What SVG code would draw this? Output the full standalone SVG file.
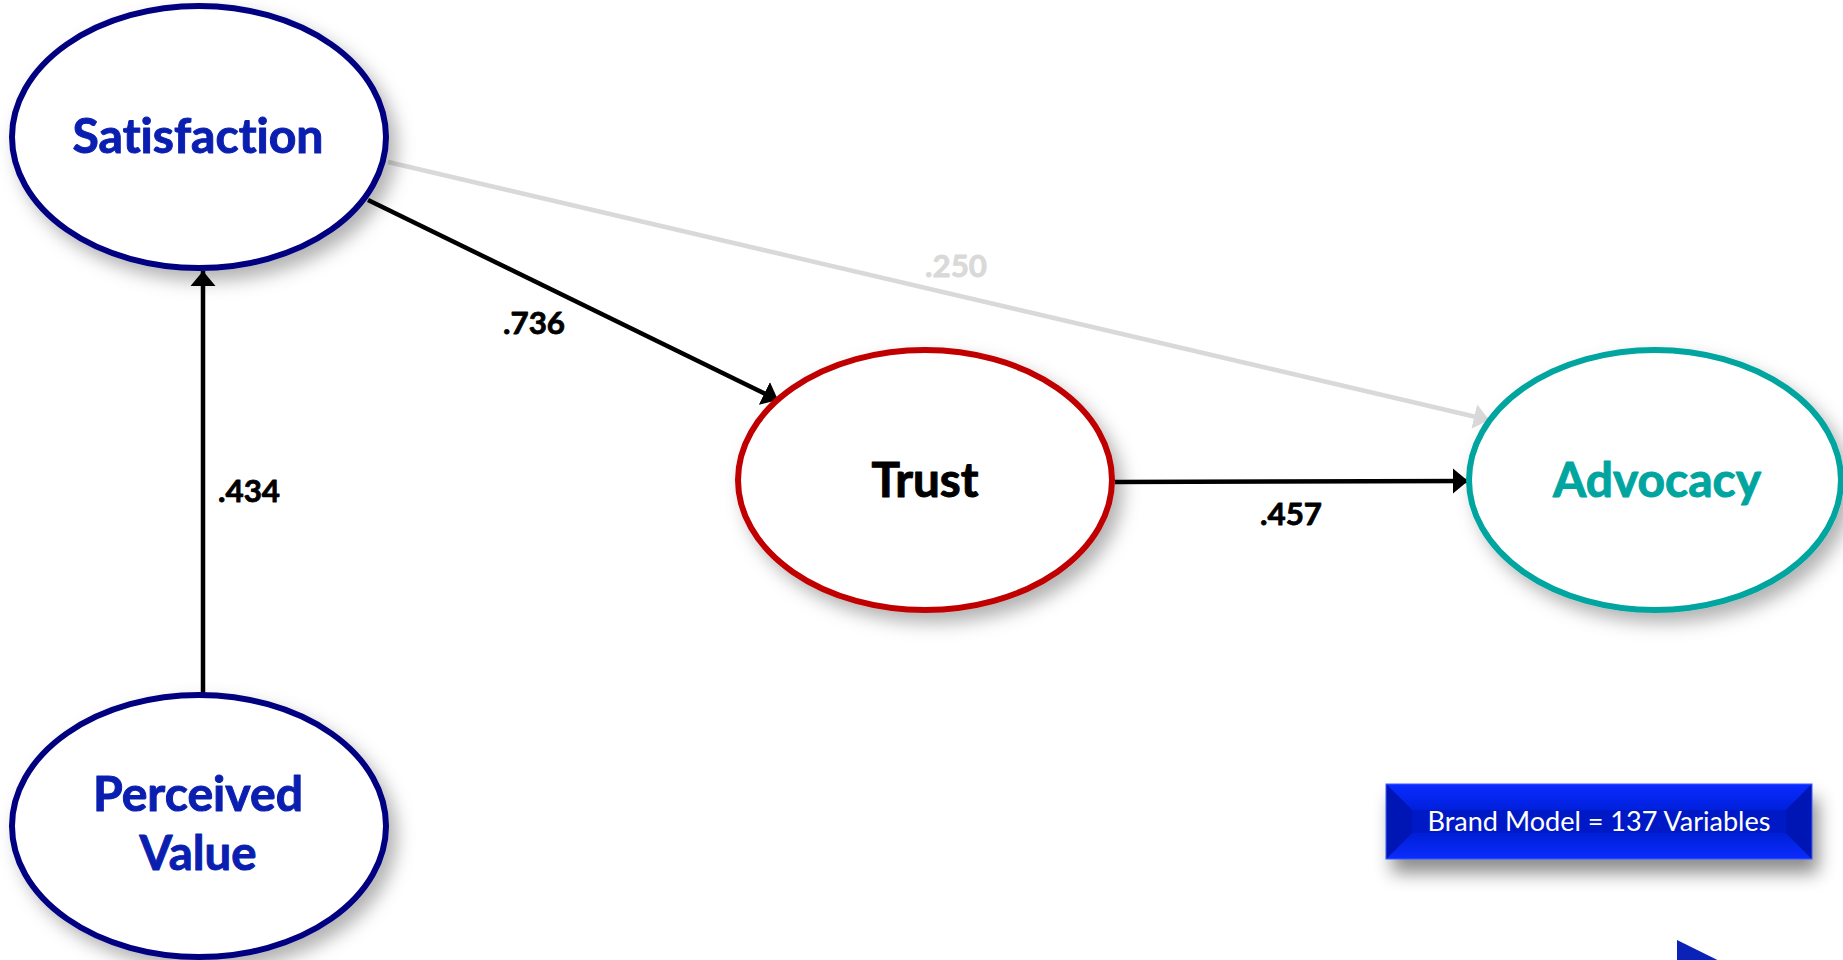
<svg xmlns="http://www.w3.org/2000/svg" width="1843" height="960" viewBox="0 0 1843 960">
<style>
text{font-variant-ligatures:none}
.node{fill:#fff;stroke-width:6}
.lbl{font-family:Lato,"Liberation Sans",sans-serif;font-weight:bold;text-anchor:middle}
.big{font-size:48px;stroke-width:1;stroke-linejoin:round}
.coef{font-size:31px;fill:#000;stroke:#000;stroke-width:0.8;stroke-linejoin:round}
.edge{fill:none;stroke-width:4.5}
</style>
<defs>
<filter id="sh" x="-20%" y="-20%" width="150%" height="150%">
<feDropShadow dx="8" dy="10" stdDeviation="9" flood-color="#000" flood-opacity="0.3"/>
</filter>
<filter id="bsh" x="-10%" y="-30%" width="125%" height="200%">
<feDropShadow dx="6" dy="14" stdDeviation="9" flood-color="#000" flood-opacity="0.45"/>
</filter>
<marker id="ah" viewBox="0 0 6 10" refX="6" refY="5" markerWidth="3.4" markerHeight="5.6" orient="auto" markerUnits="strokeWidth">
<path d="M0,0 L6,5 L0,10 z" fill="#000"/>
</marker>
<marker id="ahg" viewBox="0 0 6 10" refX="6" refY="5" markerWidth="3.4" markerHeight="5.6" orient="auto" markerUnits="strokeWidth">
<path d="M0,0 L6,5 L0,10 z" fill="#d9d9d9"/>
</marker>
<linearGradient id="top" x1="0" y1="0" x2="0" y2="1">
<stop offset="0" stop-color="#0a2cff"/><stop offset="1" stop-color="#0020dc"/>
</linearGradient>
<linearGradient id="bot" x1="0" y1="0" x2="0" y2="1">
<stop offset="0" stop-color="#001fd6"/><stop offset="1" stop-color="#0a2cff"/>
</linearGradient>
</defs>

<g id="connectors">
<line class="edge" x1="388" y1="162" x2="1489" y2="420" stroke="#d9d9d9" marker-end="url(#ahg)"/>
<line class="edge" x1="203" y1="695" x2="203" y2="271" stroke="#000" marker-end="url(#ah)"/>
<line class="edge" x1="368" y1="200" x2="778" y2="400" stroke="#000" marker-end="url(#ah)"/>
<line class="edge" x1="1115" y1="482" x2="1468" y2="481" stroke="#000" marker-end="url(#ah)"/>
<text class="lbl coef" x="249" y="502" textLength="62" lengthAdjust="spacingAndGlyphs">.434</text>
<text class="lbl coef" x="534" y="334" textLength="62" lengthAdjust="spacingAndGlyphs">.736</text>
<text class="lbl coef" x="956" y="277" style="fill:#d9d9d9;stroke:#d9d9d9" textLength="62" lengthAdjust="spacingAndGlyphs">.250</text>
<text class="lbl coef" x="1291" y="525" textLength="62" lengthAdjust="spacingAndGlyphs">.457</text>
</g>

<g id="satisfaction">
<ellipse class="node" cx="199" cy="137" rx="187" ry="131" stroke="#000080" filter="url(#sh)"/>
<text class="lbl big" x="198" y="153" fill="#0a1fb0" stroke="#0a1fb0" textLength="251" lengthAdjust="spacingAndGlyphs">Satisfaction</text>
</g>

<g id="perceived-value">
<ellipse class="node" cx="199" cy="826" rx="187" ry="131" stroke="#000080" filter="url(#sh)"/>
<text class="lbl big" x="198" y="811" fill="#0a1fb0" stroke="#0a1fb0" textLength="210" lengthAdjust="spacingAndGlyphs">Perceived</text>
<text class="lbl big" x="198" y="870" fill="#0a1fb0" stroke="#0a1fb0" textLength="117" lengthAdjust="spacingAndGlyphs">Value</text>
</g>

<g id="trust">
<ellipse class="node" cx="925" cy="480" rx="187" ry="130" stroke="#c00000" filter="url(#sh)"/>
<text class="lbl big" x="925" y="497" fill="#000" stroke="#000" textLength="107" lengthAdjust="spacingAndGlyphs">Trust</text>
</g>

<g id="advocacy">
<ellipse class="node" cx="1655" cy="480" rx="186" ry="130" stroke="#00a59f" filter="url(#sh)"/>
<text class="lbl big" x="1657" y="497" fill="#00a59f" stroke="#00a59f" textLength="208" lengthAdjust="spacingAndGlyphs">Advocacy</text>
</g>

<g id="brand-model">
<rect x="1386" y="784" width="426" height="75" fill="#0019c6" filter="url(#bsh)"/>
<polygon points="1386,784 1812,784 1786,810 1412,810" fill="url(#top)"/>
<polygon points="1386,859 1812,859 1786,833 1412,833" fill="url(#bot)"/>
<polygon points="1386,784 1412,810 1412,833 1386,859" fill="#0016b4"/>
<polygon points="1812,784 1786,810 1786,833 1812,859" fill="#0016b4"/>
<rect x="1412" y="810" width="374" height="23" fill="#0019c6"/>
<rect x="1386" y="784" width="426" height="75" fill="none" stroke="#3a5cff" stroke-width="1"/>
<text x="1599" y="831" font-family="Lato,'Liberation Sans',sans-serif" font-size="27" fill="#fff" text-anchor="middle" textLength="343" lengthAdjust="spacingAndGlyphs">Brand Model = 137 Variables</text>
</g>

<g id="play-arrow">
<polygon points="1677,940 1760,981 1677,1022" fill="#0a22b8"/>
</g>
</svg>
